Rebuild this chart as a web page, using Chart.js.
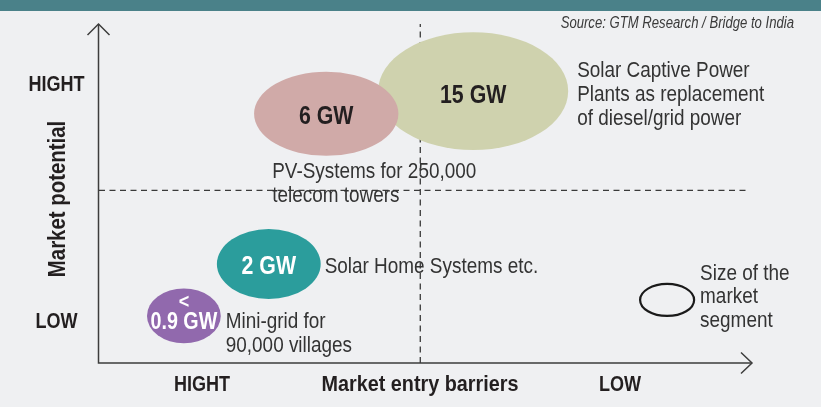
<!DOCTYPE html>
<html lang="en">
<head>
    <meta charset="UTF-8">
    <title>Solar market segments India</title>
    <script src="https://cdn.jsdelivr.net/npm/chart.js@4.4.0/dist/chart.umd.min.js"></script>
    <style>
        body { margin: 0; background: #eff0f2; }
        .topbar { position: absolute; left: 0; top: 0; width: 821px; height: 11px; background: #4a8189; }
        #wrap { width: 821px; height: 407px; }
    </style>
</head>
<body>
    <div class="topbar"></div>
    <div id="wrap"><canvas id="myChart" width="821" height="407"></canvas></div>

    <script type="text/javascript">

        // market segments (x = entry barriers, HIGH -> LOW; y = market potential, LOW -> HIGH)
        var segments = ['Mini-grid', 'Solar Home Systems', 'PV telecom towers', 'Solar Captive Power'];
        var capacityGW = [0.9, 2, 6, 15];
        var capacityLabels = [['<', '0.9 GW'], ['2 GW'], ['6 GW'], ['15 GW']];
        var barrierScore = [13.0, 26.0, 34.8, 57.3];
        var potentialScore = [13.9, 29.2, 73.5, 80.2];
        var bubbleWidth = [11.3, 15.9, 22.1, 29.1];
        var bubbleHeight = [16.2, 20.6, 24.8, 34.8];
        var descriptions = [
            ['Mini-grid for', '90,000 villages'],
            ['Solar Home Systems etc.'],
            ['PV-Systems for 250,000', 'telecom towers'],
            ['Solar Captive Power', 'Plants as replacement', 'of diesel/grid power']
        ];
        var dividerX = 49.2;
        var dividerY = 50.9;
        var yAxisLabels = ['LOW', 'HIGHT'];
        var xAxisLabels = ['HIGHT', 'LOW'];

        // no condensed face installed, so Liberation Sans gets squeezed sideways
        var FONT = "'Liberation Sans', Arial, sans-serif";
        var fills = ['#9169ad', '#2b9d9c', '#d0aaa8', '#cfd2ae'];
        var inkColors = ['#ffffff', '#ffffff', '#231f20', '#231f20'];
        // where the description sits relative to its ellipse
        var descPlace = [
            {side: 'right', dx: 5, dy: 12},
            {side: 'right', dx: 4, dy: 9},
            {side: 'below', dx: -54, dy: 22},
            {side: 'right', dx: 9, dy: -14}
        ];

        function txt(c, t, x, y, font, sx, align) {
            c.save();
            c.translate(x, y);
            c.scale(sx, 1);
            c.font = font;
            c.textAlign = align;
            c.textBaseline = 'alphabetic';
            c.fillText(t, 0, 0);
            c.restore();
        }

        var drawPlugin = {
            id: 'segmentDraw',
            afterDatasetsDraw: function(chart) {
                var ctx = chart.ctx;
                var x = chart.scales.x, y = chart.scales.y;
                var x0 = x.getPixelForValue(0), y0 = y.getPixelForValue(0);
                var xEnd = x.getPixelForValue(100), yTop = y.getPixelForValue(100);
                ctx.save();

                // axes with arrows
                ctx.strokeStyle = '#3d3d3d';
                ctx.lineWidth = 1.5;
                ctx.beginPath();
                ctx.moveTo(x0 - 0.5, yTop); ctx.lineTo(x0 - 0.5, y0);
                ctx.lineTo(xEnd, y0);
                ctx.stroke();
                ctx.beginPath();
                ctx.moveTo(x0 - 11.5, yTop + 11); ctx.lineTo(x0 - 0.5, yTop); ctx.lineTo(x0 + 10.5, yTop + 11);
                ctx.moveTo(xEnd - 11, y0 - 10.5); ctx.lineTo(xEnd, y0); ctx.lineTo(xEnd - 11, y0 + 10.5);
                ctx.stroke();

                // ellipses, biggest first
                var ell = [];
                for (var i = 0; i < segments.length; i++) {
                    var cx = x.getPixelForValue(barrierScore[i]);
                    var cy = y.getPixelForValue(potentialScore[i]);
                    var rx = (x.getPixelForValue(bubbleWidth[i]) - x0) / 2;
                    var ry = (y0 - y.getPixelForValue(bubbleHeight[i])) / 2;
                    ell.push({cx: cx, cy: cy, rx: rx, ry: ry});
                }
                for (var k = segments.length - 1; k >= 0; k--) {
                    var e = ell[k];
                    ctx.fillStyle = fills[k];
                    ctx.beginPath();
                    ctx.ellipse(e.cx, e.cy, e.rx, e.ry, 0, 0, Math.PI * 2);
                    ctx.fill();
                }

                // capacity labels
                for (var j = 0; j < segments.length; j++) {
                    var e2 = ell[j];
                    ctx.fillStyle = inkColors[j];
                    var lines = capacityLabels[j];
                    if (lines.length === 2) {
                        txt(ctx, lines[0], e2.cx, e2.cy - 8, 'bold 20px ' + FONT, 0.9, 'center');
                        txt(ctx, lines[1], e2.cx, e2.cy + 13, 'bold 24px ' + FONT, 0.82, 'center');
                    } else {
                        txt(ctx, lines[0], e2.cx, e2.cy + (j === 3 ? 12 : 10), 'bold 26px ' + FONT, 0.82, 'center');
                    }
                }

                // descriptions
                ctx.fillStyle = '#333333';
                var descFont = '22px ' + FONT;
                for (var d = 0; d < segments.length; d++) {
                    var e3 = ell[d], p = descPlace[d];
                    var tx = p.side === 'right' ? e3.cx + e3.rx + p.dx : e3.cx + p.dx;
                    var ty = p.side === 'right' ? e3.cy + p.dy : e3.cy + e3.ry + p.dy;
                    descriptions[d].forEach(function(t, n) {
                        txt(ctx, t, tx, ty + n * 24, descFont, 0.86, 'left');
                    });
                }

                // legend key
                var kx = x.getPixelForValue(87.0), ky = y.getPixelForValue(18.6);
                ctx.strokeStyle = '#1a1a1a';
                ctx.lineWidth = 2.2;
                ctx.beginPath();
                ctx.ellipse(kx, ky, 27, 16, 0, 0, Math.PI * 2);
                ctx.stroke();
                ['Size of the', 'market', 'segment'].forEach(function(t, n) {
                    txt(ctx, t, kx + 33, ky - 20 + n * 23.5, descFont, 0.86, 'left');
                });

                // axis captions
                ctx.fillStyle = '#231f20';
                var capFont = 'bold 22px ' + FONT;
                txt(ctx, yAxisLabels[1], 56.5, 91, capFont, 0.82, 'center');
                txt(ctx, yAxisLabels[0], 56.5, 328, capFont, 0.82, 'center');
                txt(ctx, xAxisLabels[0], 202, 391, capFont, 0.82, 'center');
                txt(ctx, 'Market entry barriers', 420, 391, capFont, 0.9, 'center');
                txt(ctx, xAxisLabels[1], 620, 391, capFont, 0.82, 'center');
                ctx.save();
                ctx.translate(65, 199);
                ctx.rotate(-Math.PI / 2);
                txt(ctx, 'Market potential', 0, 0, 'bold 24px ' + FONT, 0.85, 'center');
                ctx.restore();

                // source
                ctx.fillStyle = '#3a3a3a';
                txt(ctx, 'Source: GTM Research / Bridge to India', 794, 28, 'italic 16px ' + FONT, 0.82, 'right');
                ctx.restore();
            }
        };

        var ctx = document.getElementById('myChart').getContext('2d');
        var myChart = new Chart(ctx, {
            type: 'scatter',
            data: {
                datasets: [{
                    type: 'line',
                    data: [{x: 0, y: dividerY}, {x: 99.2, y: dividerY}],
                    borderColor: '#3a3a3a',
                    borderWidth: 1.3,
                    borderDash: [6, 4.5],
                    pointRadius: 0,
                    clip: false
                }, {
                    type: 'line',
                    data: [{x: dividerX, y: 0}, {x: dividerX, y: 100}],
                    borderColor: '#3a3a3a',
                    borderWidth: 1.3,
                    borderDash: [6, 4.5],
                    pointRadius: 0,
                    clip: false
                }, {
                    label: 'segments',
                    data: barrierScore.map(function(v, i) { return {x: v, y: potentialScore[i]}; }),
                    pointRadius: 0
                }]
            },
            options: {
                responsive: false,
                animation: false,
                events: [],
                layout: { padding: { left: 99, right: 69, top: 24, bottom: 44 } },
                plugins: { legend: { display: false }, tooltip: { enabled: false } },
                scales: {
                    x: { type: 'linear', min: 0, max: 100, display: false },
                    y: { type: 'linear', min: 0, max: 100, display: false }
                }
            },
            plugins: [drawPlugin]
        });
    </script>
</body>
</html>
